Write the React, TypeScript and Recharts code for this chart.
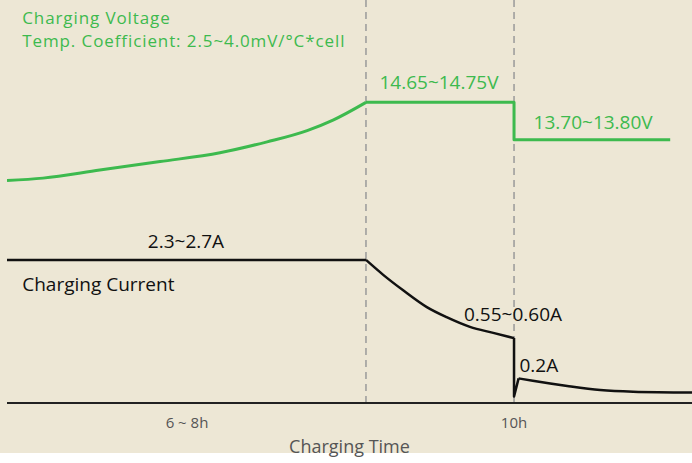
import { LineChart, Line, XAxis, YAxis, ReferenceLine, ReferenceDot } from 'recharts';

// x in chart units (10 = the "10h" mark), y in relative units 0..100
const riseTime = [0, 0.71, 1.83, 3.02, 4.2, 5.13, 5.92, 6.43, 7.08];
const riseLevel = [55.2, 55.8, 57.8, 59.9, 62.1, 64.8, 67.6, 70.2, 74.6];
const holdTime = [7.08, 10, 10, 13.08];
const holdLevel = [74.6, 74.6, 65.3, 65.3];

const ccTime = [0, 7.08];
const ccLevel = [35.5, 35.5];
const taperTime = [7.08, 7.42, 7.82, 8.28, 8.67, 9.13, 9.59, 10];
const taperLevel = [35.5, 31.8, 27.9, 23.8, 21.3, 18.9, 17.4, 16.1];
const dropTime = [10, 10, 10.09];
const dropLevel = [16.1, 1.6, 6.1];
const floatTime = [10.09, 10.37, 11.05, 11.7, 12.35, 13.51];
const floatLevel = [6.1, 5.5, 4.2, 3.2, 2.8, 2.6];

const phaseEnds = [7.08, 10];
const tickValues = [3.55, 10];
const tickLabels = ['6 ~ 8h', '10h'];

const green = '#3dba4e';
const black = '#111111';

const titleLines = ['Charging Voltage', 'Temp. Coefficient: 2.5~4.0mV/°C*cell'];

const notes = [
  { x: 8.52, y: 79.7, text: '14.65~14.75V', color: green, pos: 'center' },
  { x: 11.56, y: 69.7, text: '13.70~13.80V', color: green, pos: 'center' },
  { x: 3.53, y: 40.2, text: '2.3~2.7A', color: black, pos: 'center' },
  { x: 0.3, y: 29.5, text: 'Charging Current', color: black, pos: 'right' },
  { x: 9.98, y: 22.1, text: '0.55~0.60A', color: black, pos: 'center' },
  { x: 10.49, y: 9.4, text: '0.2A', color: black, pos: 'center' },
];

const toData = (ts: number[], vs: number[]) => ts.map((t, i) => ({ t, v: vs[i] }));

const segments = [
  { data: toData(riseTime, riseLevel), color: green, width: 3, type: 'monotone' },
  { data: toData(holdTime, holdLevel), color: green, width: 3, type: 'linear' },
  { data: toData(ccTime, ccLevel), color: black, width: 2.5, type: 'linear' },
  { data: toData(taperTime, taperLevel), color: black, width: 2.5, type: 'monotone' },
  { data: toData(dropTime, dropLevel), color: black, width: 2.5, type: 'linear' },
  { data: toData(floatTime, floatLevel), color: black, width: 2.5, type: 'monotone' },
];

const font = '"Open Sans", "Noto Sans", sans-serif';

// two-line title drawn as one text block
const TitleBlock = (props: any) => {
  const { viewBox } = props;
  const x = viewBox?.x ?? 0;
  const y = viewBox?.y ?? 0;
  return (
    <text x={x} y={y} fill={green} fontSize={17} letterSpacing={0.9} fontFamily={font}>
      {titleLines.map((line, i) => (
        <tspan key={i} x={x} dy={i === 0 ? 0 : 23.5}>
          {line}
        </tspan>
      ))}
    </text>
  );
};

export default function App() {
  return (
    <div
      style={{
        position: 'absolute',
        left: 0,
        top: 0,
        width: 692,
        height: 463,
        background: 'linear-gradient(#ede7d5 0, #ede7d5 453px, #ffffff 453px)',
        fontFamily: font,
      }}
    >
      <LineChart width={692} height={463} margin={{ top: 0, right: 0, left: 7, bottom: 10 }}>
        <XAxis
          type="number"
          dataKey="t"
          domain={[0, 13.51]}
          ticks={tickValues}
          tickFormatter={(v: number) => tickLabels[tickValues.indexOf(v)]}
          allowDataOverflow
          height={50}
          tickLine={false}
          tickMargin={8}
          axisLine={{ stroke: '#222', strokeWidth: 2 }}
          tick={{ fill: '#555', fontSize: 15, fontFamily: font }}
          label={{ value: 'Charging Time', position: 'insideBottom', offset: 0, fill: '#555', fontSize: 18, fontFamily: font }}
        />
        <YAxis
          type="number"
          domain={[0, 100]}
          allowDataOverflow
          width={0}
          tick={false}
          tickLine={false}
          axisLine={{ stroke: '#222', strokeWidth: 2 }}
        />
        {phaseEnds.map((x) => (
          <ReferenceLine key={x} x={x} stroke="#9a9a9a" strokeWidth={1.5} strokeDasharray="7 5" />
        ))}
        {segments.map((s, i) => (
          <Line
            key={i}
            data={s.data}
            dataKey="v"
            type={s.type as any}
            stroke={s.color}
            strokeWidth={s.width}
            strokeLinejoin="round"
            dot={false}
            activeDot={false}
            isAnimationActive={false}
          />
        ))}
        <ReferenceDot x={0.3} y={94.05} r={0} stroke="none" fill="none" label={<TitleBlock />} />
        {notes.map((n) => (
          <ReferenceDot
            key={n.text}
            x={n.x}
            y={n.y}
            r={0}
            stroke="none"
            fill="none"
            label={{ value: n.text, position: n.pos as any, offset: 0, fill: n.color, fontSize: 19, fontFamily: font }}
          />
        ))}
      </LineChart>
    </div>
  );
}
